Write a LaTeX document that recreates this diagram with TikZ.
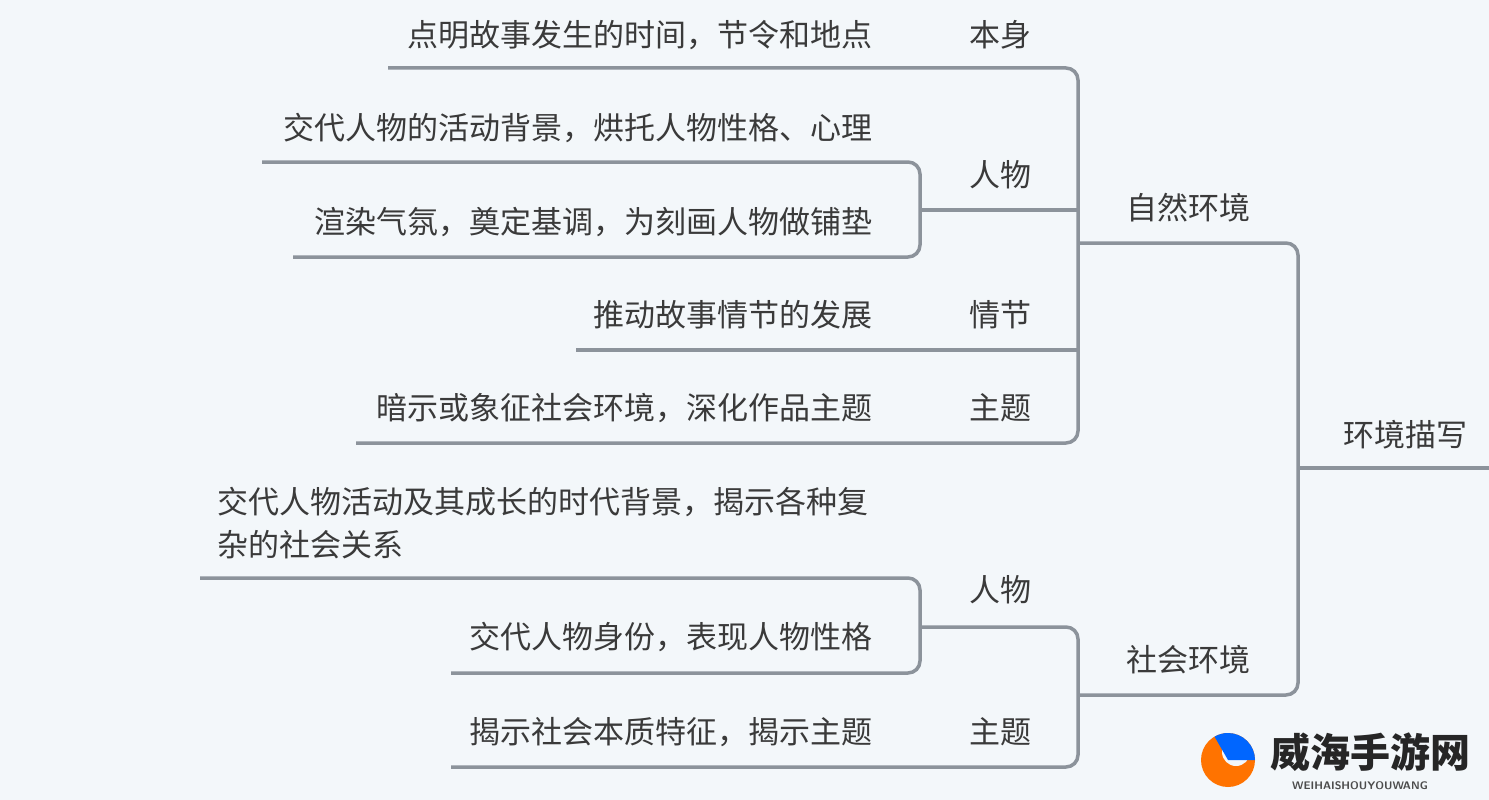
\documentclass[tikz,border=0pt]{standalone}
\usepackage{fontspec}
\newfontfamily\cjk{Noto Sans CJK SC}
\begin{document}
\begin{tikzpicture}[x=1pt,y=-1pt,
  ln/.style={draw=lineg,line width=3.5pt,rounded corners=12pt},
  lab/.style={font=\cjk\fontsize{31}{36}\selectfont,text=txt,inner sep=0pt},
  leaf/.style={lab,anchor=east}]
\definecolor{lineg}{HTML}{8C939B}
\definecolor{txt}{HTML}{3A3A3A}
\definecolor{bg}{HTML}{F3F7FA}
\fill[bg] (0,0) rectangle (1489,800);
\useasboundingbox (0,0) rectangle (1489,800);
% root
\node[lab] (root) at (1405,435) {环境描写};
\node[lab] (zr) at (1188,208) {自然环境};
\node[lab] (sh) at (1188,660) {社会环境};
\draw[ln] (1489,468) -- (1298,468);
\draw[ln] (1080,243) -- (1298,243) -- (1298,695) -- (1080,695);
% natural
\draw[ln] (388,68) -- (1078,68) -- (1078,443) -- (356,443);
\draw[ln] (576,350) -- (1078,350);
\draw[ln] (922,210) -- (1078,210);
\draw[ln] (262,162) -- (920,162) -- (920,257) -- (293,257);
\node[lab] (bs) at (1000,35) {本身};
\node[lab] (rw1) at (1000,175) {人物};
\node[lab] (qj) at (1000,315) {情节};
\node[lab] (zt1) at (1000,408) {主题};
\node[leaf] (a1) at (873,35) {点明故事发生的时间，节令和地点};
\node[leaf] (a2) at (873,128) {交代人物的活动背景，烘托人物性格、心理};
\node[leaf] (a3) at (873,222) {渲染气氛，奠定基调，为刻画人物做铺垫};
\node[leaf] (a4) at (873,315) {推动故事情节的发展};
\node[leaf] (a5) at (873,408) {暗示或象征社会环境，深化作品主题};
% social
\draw[ln] (922,627) -- (1078,627) -- (1078,767) -- (451,767);
\draw[ln] (200,578) -- (920,578) -- (920,673) -- (451,673);
\node[lab] (rw2) at (1000,590) {人物};
\node[lab] (zt2) at (1000,732) {主题};
\node[lab,anchor=west] (b1a) at (217,502) {交代人物活动及其成长的时代背景，揭示各种复};
\node[lab,anchor=west] (b1b) at (217,545) {杂的社会关系};
\node[leaf] (b2) at (873,637) {交代人物身份，表现人物性格};
\node[leaf] (b3) at (873,732) {揭示社会本质特征，揭示主题};
% logo
\fill[orange!90!red] (1228,760) circle (27);
\fill[bg] (1236,752) circle (14);
\fill[blue!60!cyan] (1228,760) ++(0:27) arc (0:-120:27) -- (1228,760) -- cycle;
\node[font=\cjk\bfseries\fontsize{40}{44}\selectfont,text=black!85,inner sep=0pt] (logo) at (1370,752) {威海手游网};
\node[font=\sffamily\bfseries\fontsize{11}{12}\selectfont,text=black!70,inner sep=0pt] (logo2) at (1360,786) {WEIHAISHOUYOUWANG};
\end{tikzpicture}
\end{document}
